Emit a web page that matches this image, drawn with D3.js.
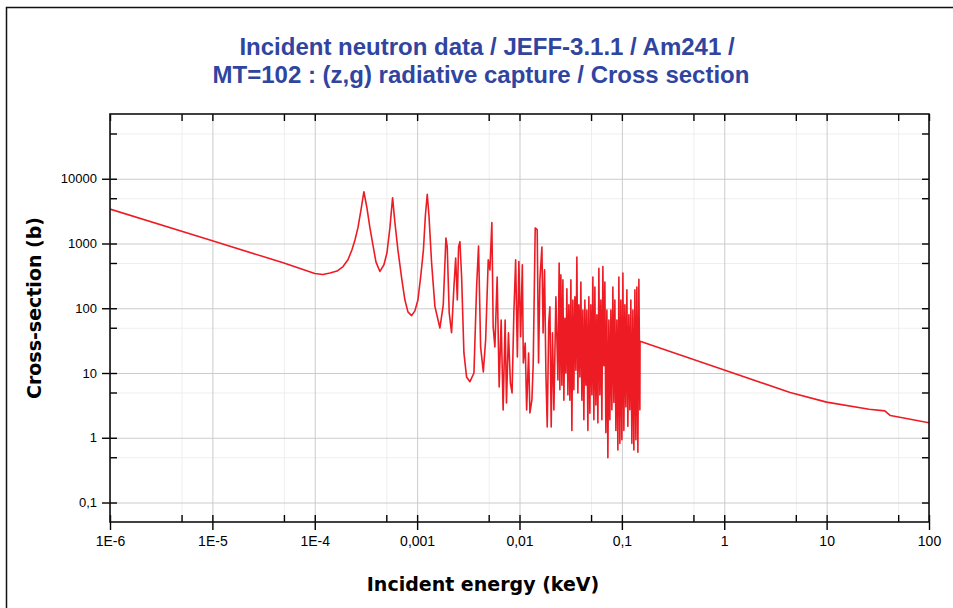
<!DOCTYPE html>
<html>
<head>
<meta charset="utf-8">
<script src="https://cdn.jsdelivr.net/npm/d3@7"></script>
<style>
  body { margin: 0; background: #fff; }
  svg { display: block; }
  .tick text { font-family: "Liberation Sans", Arial, sans-serif; fill: #000; }
  .title { font-family: "Liberation Sans", Arial, sans-serif; font-weight: bold; font-size: 24px; fill: #2f45a0; }
  .axlabel { font-family: "DejaVu Sans", Verdana, sans-serif; font-weight: bold; font-size: 19px; fill: #000; }
</style>
</head>
<body>
<script>
var w = 953;
var h = 608;
var m = { left: 110, right: 929, top: 114, bottom: 522 };

// JEFF-3.1.1 Am241 MT=102 (keV, barns)
var energyKeV = [
  1e-6, 1e-5, 5e-5, 1e-4, 1.2e-4, 1.41e-4, 1.65e-4, 1.89e-4, 2.11e-4, 2.31e-4,
  2.47e-4, 2.64e-4, 2.83e-4, 3.02e-4, 3.24e-4, 3.46e-4, 3.70e-4, 3.96e-4, 4.33e-4, 4.74e-4,
  5.07e-4, 5.42e-4, 5.76e-4, 6.06e-4, 6.49e-4, 7.10e-4, 7.60e-4, 8.13e-4, 8.83e-4, 9.51e-4,
  1.018e-3, 1.089e-3, 1.152e-3, 1.205e-3, 1.256e-3, 1.304e-3, 1.385e-3, 1.493e-3, 1.670e-3, 1.80e-3,
  1.911e-3, 1.968e-3, 2.058e-3, 2.17e-3, 2.288e-3, 2.38e-3, 2.47e-3, 2.54e-3, 2.619e-3, 2.72e-3,
  2.865e-3, 3.04e-3, 3.28e-3, 3.59e-3, 3.81e-3, 3.98e-3, 4.17e-3, 4.43e-3, 4.67e-3, 4.95e-3,
  5.14e-3, 5.37e-3, 5.53e-3, 5.75e-3, 6.05e-3, 6.33e-3, 6.62e-3, 6.92e-3, 7.24e-3, 7.46e-3,
  7.80e-3, 8.15e-3, 8.46e-3, 8.81e-3, 9.17e-3, 9.53e-3, 9.86e-3, 0.01026, 0.01066, 0.0109,
  0.01137, 0.01174, 0.01227, 0.01264, 0.01322, 0.01362, 0.01424, 0.01489, 0.01535, 0.01582,
  0.01655, 0.0170, 0.01757, 0.01811, 0.01866, 0.0193, 0.01981, 0.0204, 0.0210, 0.02168,
  0.02267, 0.02372, 0.0244,
  0.0248, 0.02536, 0.02594, 0.02653, 0.02713, 0.02775, 0.02838, 0.02903, 0.02969, 0.03036,
  0.03105, 0.03176, 0.03248, 0.03322, 0.03397, 0.03475, 0.03554, 0.03635, 0.03717, 0.03802,
  0.03888, 0.03977, 0.04067, 0.0416, 0.04254, 0.04351, 0.0445, 0.04551, 0.04655, 0.0476,
  0.04869, 0.0498, 0.05093, 0.05209, 0.05327, 0.05448, 0.05572, 0.05699, 0.05829, 0.05961,
  0.06097, 0.06236, 0.06377, 0.06522, 0.06671, 0.06823, 0.06978, 0.07136, 0.07299, 0.07465,
  0.07634, 0.07808, 0.07986, 0.08167, 0.08353, 0.08543, 0.08737, 0.08936, 0.09139, 0.09347,
  0.0956, 0.09777, 0.1, 0.1023, 0.1046, 0.107, 0.1094, 0.1119, 0.1144, 0.117,
  0.1197, 0.1224, 0.1252, 0.1281, 0.131, 0.134, 0.137, 0.1401, 0.1433, 0.1466,
  0.1499,
  0.1505, 1, 4.4, 10, 26, 37, 42, 100
];
var sigmaBarn = [
  3400, 1100, 500, 345, 333, 350, 375, 440, 560, 800,
  1135, 1740, 3300, 6300, 3500, 1740, 950, 520, 370, 470,
  714, 1740, 5100, 2150, 796, 274, 134, 88, 77, 91,
  134, 330, 796, 2760, 5770, 2760, 500, 106, 49.6, 113,
  1218, 885, 84.6, 42, 213, 598, 134, 885, 1068, 304,
  20.4, 8.7, 7.35, 10, 213, 916, 25.3, 10.4, 32.4, 558,
  391, 2100, 51.5, 25.3, 304, 6.1, 66, 2.69, 66, 3.45,
  41.6, 7.0, 4.92, 84.6, 558, 17.7, 525, 36.4, 470, 14.3,
  29.1, 2.69, 20.4, 2.42, 3.84, 14.3, 1740, 1620, 14.3, 274,
  885, 41.6, 391, 10, 1.47, 59.3, 105, 1.47, 41.6, 2.69,
  150, 7.8, 500,
  5.5, 330, 6.5, 274, 3.8, 70, 10, 200, 4.6, 113,
  3.8, 274, 1.3, 134, 5.5, 150, 11, 620, 4.9, 113,
  8.7, 255, 3.8, 94, 1.9, 134, 6.5, 94, 1.3, 150,
  2.4, 113, 4.6, 304, 1.9, 213, 3.2, 79, 1.7, 415,
  4.6, 134, 1.9, 440, 13, 255, 1.2, 94, 0.49, 66,
  1.9, 94, 2.7, 213, 3.5, 134, 1.3, 66, 0.65, 304,
  0.82, 134, 0.93, 350, 1.3, 113, 3.0, 192, 1.5, 79,
  2.7, 134, 0.82, 94, 0.65, 192, 0.93, 213, 0.6, 280,
  2.7,
  31, 11.1, 5.0, 3.55, 2.75, 2.6, 2.2, 1.7
];

var xMajor = [1e-6, 1e-5, 1e-4, 1e-3, 1e-2, 0.1, 1, 10, 100];
var xMajorLabels = ['1E-6', '1E-5', '1E-4', '0,001', '0,01', '0,1', '1', '10', '100'];
var xMinor = [5e-6, 5e-5, 5e-4, 5e-3, 0.05, 0.5, 5, 50];
var yMajor = [0.1, 1, 10, 100, 1000, 10000];
var yMajorLabels = ['0,1', '1', '10', '100', '1000', '10000'];
var yMinor = [0.5, 5, 50, 500, 5000, 50000];

var pw = m.right - m.left;
var ph = m.bottom - m.top;

var x = d3.scaleLog().domain([1e-6, 100]).range([m.left, m.right]);
var y = d3.scaleLog().domain([0.05, 1e5]).range([m.bottom, m.top]);

var svg = d3.select('body')
  .append('svg')
  .attr('width', w)
  .attr('height', h);

// outer frame
svg.append('rect')
  .attr('x', 6.5)
  .attr('y', 7.5)
  .attr('width', w + 10)
  .attr('height', h + 10)
  .style('fill', 'none')
  .style('stroke', '#111')
  .style('stroke-width', 1.5);

// grid, minor then major
function grid(axis, vals, size, color, tr) {
  var g = svg.append('g')
    .attr('transform', tr)
    .call(axis.tickValues(vals).tickSize(size).tickFormat(''));
  g.select('.domain').remove();
  g.selectAll('line').style('stroke', color).style('stroke-width', 1);
}
grid(d3.axisBottom(x), xMinor, -ph, '#eeeeee', 'translate(0,' + m.bottom + ')');
grid(d3.axisLeft(y), yMinor, -pw, '#eeeeee', 'translate(' + m.left + ',0)');
grid(d3.axisBottom(x), xMajor, -ph, '#cbcbcb', 'translate(0,' + m.bottom + ')');
grid(d3.axisLeft(y), yMajor, -pw, '#cbcbcb', 'translate(' + m.left + ',0)');

// curve
svg.append('clipPath').attr('id', 'plot')
  .append('rect')
  .attr('x', m.left).attr('y', m.top)
  .attr('width', pw).attr('height', ph);

var line = d3.line()
  .x(function(d, i) { return x(energyKeV[i]); })
  .y(function(d, i) { return y(sigmaBarn[i]); });

svg.append('path')
  .datum(energyKeV)
  .attr('clip-path', 'url(#plot)')
  .attr('d', line)
  .style('fill', 'none')
  .style('stroke', '#ed1c24')
  .style('stroke-width', 1.6)
  .style('stroke-linejoin', 'round');

// ticks
function ticks(axis, vals, size, tr, labels, fs, pad) {
  axis.tickValues(vals).tickSize(size);
  if (labels) {
    axis.tickFormat(function(d, i) { return labels[i]; }).tickPadding(pad);
  } else {
    axis.tickFormat('');
  }
  var g = svg.append('g').attr('transform', tr).call(axis);
  g.select('.domain').remove();
  g.selectAll('line').style('stroke', '#000').style('stroke-width', 1.4);
  if (fs) g.selectAll('text').style('font-size', fs + 'px');
  return g;
}
var allX = xMajor.concat(xMinor);
var allY = yMajor.concat(yMinor);
ticks(d3.axisBottom(x), xMajor, 8, 'translate(0,' + m.bottom + ')', xMajorLabels, 14, 6);
ticks(d3.axisBottom(x), allX, -7, 'translate(0,' + m.bottom + ')');
ticks(d3.axisTop(x), allX, -7, 'translate(0,' + m.top + ')');
ticks(d3.axisLeft(y), yMajor, 8, 'translate(' + m.left + ',0)', yMajorLabels, 13, 5);
ticks(d3.axisLeft(y), allY, -7, 'translate(' + m.left + ',0)');
ticks(d3.axisRight(y), allY, -7, 'translate(' + m.right + ',0)');

// plot frame
svg.append('rect')
  .attr('x', m.left)
  .attr('y', m.top)
  .attr('width', pw)
  .attr('height', ph)
  .style('fill', 'none')
  .style('stroke', '#111')
  .style('stroke-width', 1.6);

// titles
svg.append('text')
  .attr('class', 'title')
  .attr('x', 487)
  .attr('y', 55)
  .style('text-anchor', 'middle')
  .text('Incident neutron data / JEFF-3.1.1 / Am241 /');

svg.append('text')
  .attr('class', 'title')
  .attr('x', 481)
  .attr('y', 83)
  .style('text-anchor', 'middle')
  .text('MT=102 : (z,g) radiative capture / Cross section');

svg.append('text')
  .attr('class', 'axlabel')
  .attr('x', 483)
  .attr('y', 591)
  .style('text-anchor', 'middle')
  .text('Incident energy (keV)');

svg.append('text')
  .attr('class', 'axlabel')
  .attr('transform', 'translate(41,308) rotate(-90)')
  .style('text-anchor', 'middle')
  .text('Cross-section (b)');
</script>
</body>
</html>
